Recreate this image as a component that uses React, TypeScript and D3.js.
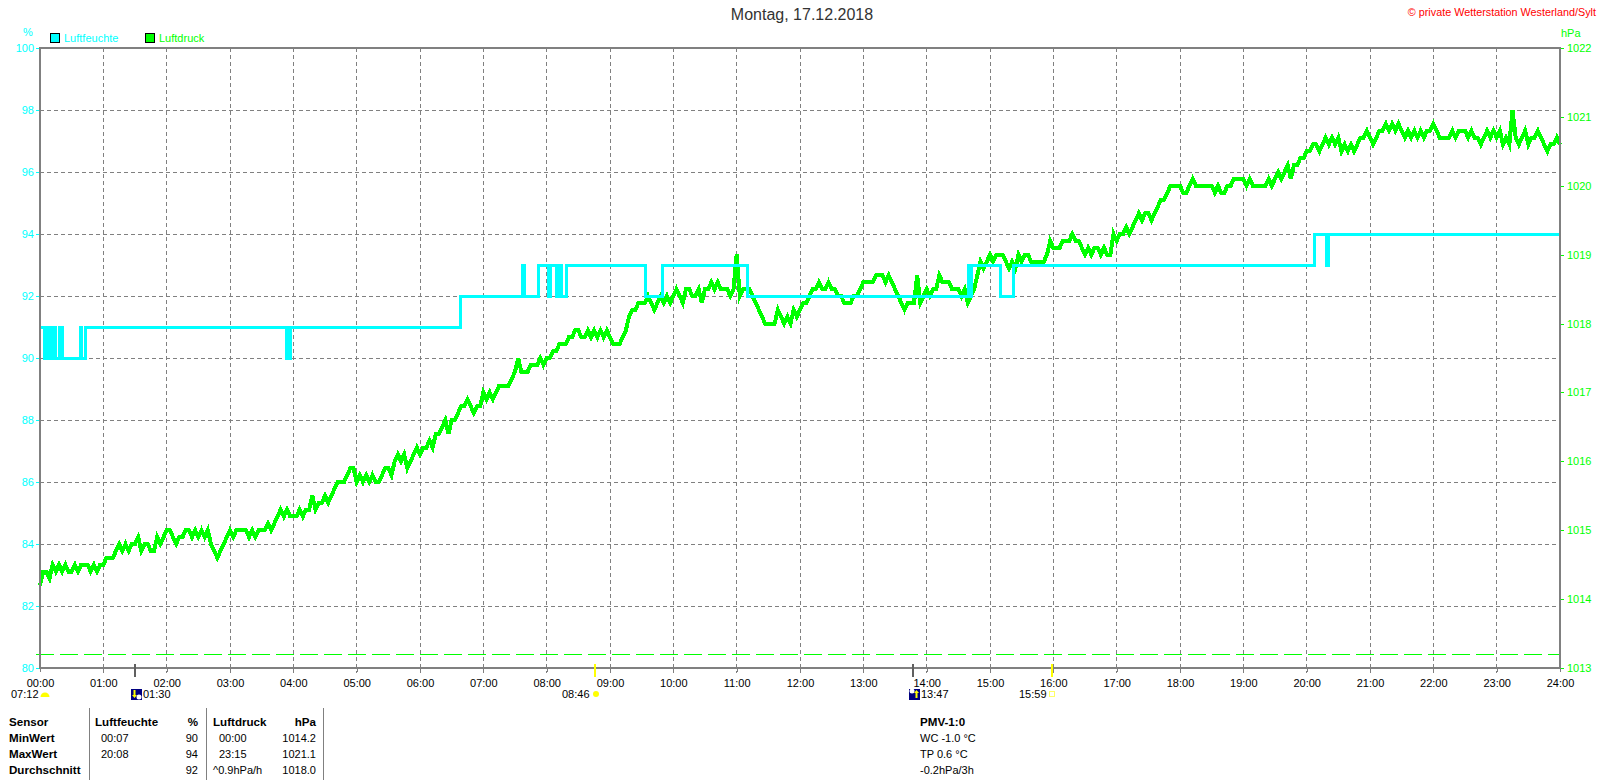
import React, { useEffect, useRef } from "react";
import * as d3 from "d3";

const FONT = '"Liberation Sans", Arial, sans-serif';
const CYAN = "#00ffff";
const GREEN = "#00ff00";
const GRAY = "#808080";

// Luftfeuchte: minute of each change, and the value from there on
const humidityMinutes = [
  0, 4.7, 5.7, 7, 8, 9.5, 10.5, 12, 13, 14.5, 18, 19, 20.5, 21.5, 27.8, 38, 39.5,
  43, 233.7, 235.5, 236.5, 237.5, 398, 457, 459, 472, 481.6, 484, 489.5, 491.5, 494.5, 499, 574, 590,
  670, 879.5, 881, 882.5, 909.5, 922, 1207, 1208, 1219, 1221, 1440,
];
const humidityValues = [
  91, 90, 91, 90, 91, 90, 91, 90, 91, 90, 91, 90, 91, 90, 90, 91, 90,
  91, 90, 91, 90, 91, 92, 93, 92, 93, 92, 93, 92, 93, 92, 93, 92, 93,
  92, 93, 92, 93, 92, 93, 94, 94, 93, 94, 94,
];

// Luftdruck: one reading every 3 minutes, one row per hour
const pressureValues = [
  1014.2, 1014.4, 1014.4, 1014.3, 1014.5, 1014.4, 1014.5, 1014.4, 1014.5, 1014.4, 1014.4, 1014.5, 1014.4, 1014.5, 1014.5, 1014.5, 1014.4, 1014.5, 1014.4, 1014.5,
  1014.5, 1014.6, 1014.6, 1014.6, 1014.7, 1014.8, 1014.7, 1014.8, 1014.7, 1014.8, 1014.8, 1014.9, 1014.7, 1014.8, 1014.8, 1014.7, 1014.7, 1014.9, 1014.8, 1014.9,
  1015.0, 1015.0, 1014.9, 1014.8, 1014.9, 1014.9, 1015.0, 1015.0, 1014.9, 1015.0, 1014.9, 1015.0, 1014.9, 1015.0, 1014.8, 1014.7, 1014.6, 1014.7, 1014.8, 1014.9,
  1015.0, 1014.9, 1015.0, 1015.0, 1015.0, 1015.0, 1014.9, 1015.0, 1014.9, 1015.0, 1015.0, 1015.0, 1015.1, 1015.0, 1015.1, 1015.2, 1015.3, 1015.2, 1015.3, 1015.2,
  1015.2, 1015.2, 1015.3, 1015.2, 1015.3, 1015.3, 1015.5, 1015.3, 1015.4, 1015.4, 1015.5, 1015.4, 1015.5, 1015.6, 1015.7, 1015.7, 1015.7, 1015.8, 1015.9, 1015.9,
  1015.7, 1015.8, 1015.7, 1015.8, 1015.7, 1015.8, 1015.7, 1015.7, 1015.8, 1015.9, 1015.9, 1015.8, 1016.0, 1016.1, 1016.0, 1016.1, 1015.9, 1016.0, 1016.1, 1016.2,
  1016.1, 1016.2, 1016.2, 1016.3, 1016.2, 1016.4, 1016.4, 1016.5, 1016.6, 1016.4, 1016.6, 1016.6, 1016.7, 1016.8, 1016.8, 1016.9, 1016.8, 1016.7, 1016.8, 1016.8,
  1017.0, 1016.9, 1017.0, 1016.9, 1017.0, 1017.1, 1017.1, 1017.1, 1017.1, 1017.2, 1017.3, 1017.5, 1017.3, 1017.3, 1017.3, 1017.4, 1017.4, 1017.4, 1017.5, 1017.4,
  1017.5, 1017.5, 1017.6, 1017.6, 1017.7, 1017.7, 1017.7, 1017.8, 1017.8, 1017.9, 1017.9, 1017.8, 1017.8, 1017.9, 1017.8, 1017.9, 1017.8, 1017.9, 1017.8, 1017.9,
  1017.8, 1017.7, 1017.7, 1017.7, 1017.8, 1017.9, 1018.1, 1018.2, 1018.2, 1018.3, 1018.3, 1018.3, 1018.4, 1018.3, 1018.2, 1018.3, 1018.4, 1018.3, 1018.4, 1018.3,
  1018.4, 1018.5, 1018.4, 1018.3, 1018.5, 1018.5, 1018.4, 1018.4, 1018.5, 1018.3, 1018.5, 1018.5, 1018.6, 1018.5, 1018.6, 1018.5, 1018.5, 1018.5, 1018.4, 1018.5,
  1019.0, 1018.4, 1018.5, 1018.5, 1018.5, 1018.4, 1018.3, 1018.2, 1018.1, 1018.0, 1018.0, 1018.0, 1018.0, 1018.2, 1018.1, 1018.0, 1018.1, 1018.0, 1018.2, 1018.1,
  1018.2, 1018.3, 1018.3, 1018.4, 1018.5, 1018.5, 1018.6, 1018.5, 1018.5, 1018.6, 1018.5, 1018.5, 1018.4, 1018.4, 1018.3, 1018.3, 1018.3, 1018.4, 1018.4, 1018.5,
  1018.6, 1018.6, 1018.6, 1018.6, 1018.7, 1018.7, 1018.7, 1018.6, 1018.7, 1018.6, 1018.5, 1018.4, 1018.3, 1018.2, 1018.3, 1018.3, 1018.3, 1018.7, 1018.3, 1018.4,
  1018.5, 1018.4, 1018.5, 1018.5, 1018.7, 1018.6, 1018.6, 1018.6, 1018.5, 1018.5, 1018.5, 1018.4, 1018.5, 1018.3, 1018.4, 1018.5, 1018.7, 1018.9, 1018.8, 1018.9,
  1019.0, 1018.9, 1019.0, 1019.0, 1019.0, 1018.9, 1018.8, 1018.9, 1018.8, 1019.0, 1018.9, 1019.0, 1019.0, 1018.9, 1018.9, 1018.9, 1018.9, 1018.9, 1019.0, 1019.2,
  1019.1, 1019.1, 1019.1, 1019.2, 1019.2, 1019.2, 1019.3, 1019.2, 1019.2, 1019.1, 1019.0, 1019.1, 1019.0, 1019.1, 1019.1, 1019.0, 1019.1, 1019.0, 1019.0, 1019.3,
  1019.2, 1019.3, 1019.3, 1019.4, 1019.3, 1019.4, 1019.5, 1019.6, 1019.5, 1019.6, 1019.6, 1019.5, 1019.6, 1019.7, 1019.8, 1019.8, 1019.9, 1020.0, 1020.0, 1020.0,
  1020.0, 1019.9, 1019.9, 1020.0, 1020.1, 1020.0, 1020.0, 1020.0, 1020.0, 1020.0, 1020.0, 1019.9, 1020.0, 1019.9, 1019.9, 1020.0, 1020.0, 1020.1, 1020.1, 1020.1,
  1020.1, 1020.0, 1020.1, 1020.0, 1020.0, 1020.0, 1020.0, 1020.0, 1020.1, 1020.0, 1020.1, 1020.2, 1020.1, 1020.2, 1020.3, 1020.1, 1020.3, 1020.3, 1020.4, 1020.4,
  1020.5, 1020.5, 1020.6, 1020.6, 1020.5, 1020.6, 1020.7, 1020.6, 1020.7, 1020.6, 1020.7, 1020.5, 1020.6, 1020.5, 1020.6, 1020.5, 1020.6, 1020.7, 1020.7, 1020.8,
  1020.7, 1020.6, 1020.7, 1020.8, 1020.8, 1020.9, 1020.8, 1020.9, 1020.8, 1020.9, 1020.8, 1020.7, 1020.8, 1020.7, 1020.8, 1020.7, 1020.8, 1020.7, 1020.8, 1020.8,
  1020.9, 1020.8, 1020.7, 1020.7, 1020.7, 1020.7, 1020.8, 1020.7, 1020.8, 1020.8, 1020.8, 1020.7, 1020.8, 1020.7, 1020.7, 1020.6, 1020.7, 1020.8, 1020.7, 1020.8,
  1020.7, 1020.8, 1020.6, 1020.7, 1020.6, 1021.1, 1020.7, 1020.6, 1020.7, 1020.8, 1020.6, 1020.7, 1020.7, 1020.8, 1020.7, 1020.6, 1020.5, 1020.6, 1020.6, 1020.7,
  1020.6,
];
const PRESSURE_STEP = 3;
const pressureFloorLine = 1013.2;

const humidityTicks = [80, 82, 84, 86, 88, 90, 92, 94, 96, 98, 100];
const pressureTicks = [1013, 1014, 1015, 1016, 1017, 1018, 1019, 1020, 1021, 1022];
const hourTicks = d3.range(0, 25);

const sunMoonMarks = [
  { label: "07:12", minute: 432, kind: "sunHalf", markX: 45, tick: null },
  { label: "01:30", minute: 90, kind: "moonDown", markX: 136, tick: "#606060" },
  { label: "08:46", minute: 526, kind: "sunFull", markX: 596, tick: "#ffff00" },
  { label: "13:47", minute: 827, kind: "moonUp", markX: 914, tick: "#606060" },
  { label: "15:59", minute: 959, kind: "sunOpen", markX: 1052, tick: "#ffff00" },
];

const tableSeparators = [89, 206, 323];
const sensorRows = ["MinWert", "MaxWert", "Durchschnitt"];
const humidityTimes = ["00:07", "20:08", ""];
const humidityStats = ["90", "94", "92"];
const pressureTimes = ["00:00", "23:15", "^0.9hPa/h"];
const pressureStats = ["1014.2", "1021.1", "1018.0"];
const pmvLines = ["WC -1.0 °C", "TP 0.6 °C", "-0.2hPa/3h"];

const App: React.FC = () => {
  const ref = useRef<SVGSVGElement>(null);

  useEffect(() => {
    if (!ref.current) return;
    const svg = d3.select(ref.current);
    svg.selectAll("*").remove();

    const left = 40;
    const right = 1560;
    const top = 48;
    const bottom = 668;

    const x = d3.scaleLinear().domain([0, 1440]).range([left, right]);
    const yHum = d3.scaleLinear().domain([80, 100]).range([bottom, top]);
    const yPress = d3.scaleLinear().domain([1013, 1022]).range([bottom, top]);

    const text = (tx: number, ty: number, s: string, fill = "#000", anchor = "start", weight = "normal", size = 11) =>
      svg
        .append("text")
        .attr("x", tx)
        .attr("y", ty)
        .attr("fill", fill)
        .attr("text-anchor", anchor)
        .attr("font-weight", weight)
        .attr("font-size", size)
        .attr("font-family", FONT)
        .text(s);
    const bold = (tx: number, ty: number, s: string, anchor = "start") => text(tx, ty, s, "#000", anchor, "bold", 11.6);

    // grid
    const grid = svg.append("g").attr("shape-rendering", "crispEdges");
    grid
      .selectAll("line.v")
      .data(hourTicks.slice(1, -1))
      .join("line")
      .attr("x1", (d) => x(d * 60))
      .attr("x2", (d) => x(d * 60))
      .attr("y1", top)
      .attr("y2", bottom + 5)
      .attr("stroke", GRAY)
      .attr("stroke-dasharray", "4 3");
    grid
      .selectAll("line.h")
      .data(humidityTicks.slice(1, -1))
      .join("line")
      .attr("x1", left)
      .attr("x2", right)
      .attr("y1", (d) => yHum(d))
      .attr("y2", (d) => yHum(d))
      .attr("stroke", GRAY)
      .attr("stroke-dasharray", "4 3");

    // green dashed line just above the floor
    svg
      .append("line")
      .attr("x1", 36)
      .attr("x2", right)
      .attr("y1", yPress(pressureFloorLine))
      .attr("y2", yPress(pressureFloorLine))
      .attr("stroke", GREEN)
      .attr("stroke-dasharray", "18 6")
      .attr("shape-rendering", "crispEdges");

    // axes
    const axisLeft = svg
      .append("g")
      .attr("transform", `translate(${left},0)`)
      .call(d3.axisLeft(yHum).tickValues(humidityTicks).tickSize(4).tickPadding(2));
    const axisRight = svg
      .append("g")
      .attr("transform", `translate(${right},0)`)
      .call(d3.axisRight(yPress).tickValues(pressureTicks).tickSize(4).tickPadding(3).tickFormat(d3.format("d")));
    const axisBottom = svg
      .append("g")
      .attr("transform", `translate(0,${bottom})`)
      .call(
        d3
          .axisBottom(x)
          .tickValues(hourTicks.map((h) => h * 60))
          .tickSize(4)
          .tickPadding(7)
          .tickFormat((d) => `${String(+d / 60).padStart(2, "0")}:00`)
      );
    [axisLeft, axisRight, axisBottom].forEach((a) => {
      a.attr("font-family", FONT).attr("font-size", 11);
      a.select(".domain").remove();
      a.selectAll("line").attr("shape-rendering", "crispEdges");
    });
    axisLeft.selectAll("text").attr("fill", CYAN);
    axisLeft.selectAll("line").attr("stroke", CYAN);
    axisRight.selectAll("text").attr("fill", GREEN);
    axisRight.selectAll("line").attr("stroke", GREEN);
    axisBottom.selectAll("text").attr("fill", "#000");
    axisBottom.selectAll("line").attr("stroke", GRAY);

    // series
    const pressureLine = d3
      .line<number>()
      .x((_, i) => x(i * PRESSURE_STEP))
      .y((d) => yPress(d));
    svg
      .append("path")
      .datum(pressureValues)
      .attr("fill", "none")
      .attr("stroke", GREEN)
      .attr("stroke-width", 4)
      .attr("shape-rendering", "crispEdges")
      .attr("d", pressureLine);

    const humidityLine = d3
      .line<number>()
      .curve(d3.curveStepAfter)
      .x((_, i) => x(humidityMinutes[i]))
      .y((d) => yHum(d));
    svg
      .append("path")
      .datum(humidityValues)
      .attr("fill", "none")
      .attr("stroke", CYAN)
      .attr("stroke-width", 3)
      .attr("shape-rendering", "crispEdges")
      .attr("d", humidityLine);

    // frame
    svg
      .append("rect")
      .attr("x", left)
      .attr("y", top)
      .attr("width", right - left)
      .attr("height", bottom - top)
      .attr("fill", "none")
      .attr("stroke", GRAY)
      .attr("stroke-width", 2)
      .attr("shape-rendering", "crispEdges");

    // header
    text(802, 20, "Montag, 17.12.2018", "#333", "middle", "normal", 16);
    text(1596, 16, "© private Wetterstation Westerland/Sylt", "#ff0000", "end", "normal", 10.8);
    text(23, 36, "%", CYAN);
    text(1561, 37, "hPa", GREEN);

    // legend
    svg.append("rect").attr("x", 50.5).attr("y", 33.5).attr("width", 9).attr("height", 9).attr("fill", CYAN).attr("stroke", "#000").attr("shape-rendering", "crispEdges");
    text(64, 42, "Luftfeuchte", CYAN);
    svg.append("rect").attr("x", 145.5).attr("y", 33.5).attr("width", 9).attr("height", 9).attr("fill", GREEN).attr("stroke", "#000").attr("shape-rendering", "crispEdges");
    text(159, 42, "Luftdruck", GREEN);

    // sun and moon marks under the axis
    const iconY = 694;
    sunMoonMarks.forEach((m) => {
      if (m.tick) {
        svg
          .append("line")
          .attr("x1", x(m.minute))
          .attr("x2", x(m.minute))
          .attr("y1", bottom - 4)
          .attr("y2", bottom + 9)
          .attr("stroke", m.tick)
          .attr("stroke-width", 2)
          .attr("shape-rendering", "crispEdges");
      }
      if (m.kind === "sunHalf") {
        const arc = d3.arc()({ innerRadius: 0, outerRadius: 4.5, startAngle: -Math.PI / 2, endAngle: Math.PI / 2 });
        svg.append("path").attr("transform", `translate(${m.markX},${iconY + 3})`).attr("d", arc).attr("fill", "#ffff00");
        text(m.markX - 34, iconY + 4, m.label);
      } else if (m.kind === "sunFull") {
        svg.append("circle").attr("cx", m.markX).attr("cy", iconY).attr("r", 3).attr("fill", "#ffff00");
        text(m.markX - 34, iconY + 4, m.label);
      } else if (m.kind === "sunOpen") {
        svg.append("rect").attr("x", m.markX - 2.5).attr("y", iconY - 2.5).attr("width", 5).attr("height", 5).attr("fill", "none").attr("stroke", "#ffff66").attr("shape-rendering", "crispEdges");
        text(m.markX - 33, iconY + 4, m.label);
      } else {
        const up = m.kind === "moonUp";
        const bx = m.markX - 5;
        svg.append("rect").attr("x", bx).attr("y", iconY - 5.5).attr("width", 11).attr("height", 11).attr("fill", "#000080").attr("shape-rendering", "crispEdges");
        svg.append("circle").attr("cx", up ? bx + 3 : bx + 8).attr("cy", up ? iconY - 3 : iconY + 3).attr("r", 2.5).attr("fill", "#fff");
        const ax = up ? bx + 7.5 : bx + 3.5;
        const dir = up ? -1 : 1;
        svg
          .append("path")
          .attr("d", d3.line()([[ax - 2.5, iconY + dir * 1], [ax, iconY + dir * 4], [ax + 2.5, iconY + dir * 1], [ax + 1, iconY + dir * 1], [ax + 1, iconY - dir * 4], [ax - 1, iconY - dir * 4], [ax - 1, iconY + dir * 1]]) + "Z")
          .attr("fill", "#ffff00");
        text(bx + 12, iconY + 4, m.label);
      }
    });

    // table
    svg
      .selectAll("line.sep")
      .data(tableSeparators)
      .join("line")
      .attr("x1", (d) => d)
      .attr("x2", (d) => d)
      .attr("y1", 708)
      .attr("y2", 780)
      .attr("stroke", GRAY)
      .attr("shape-rendering", "crispEdges");

    const rowY = (i: number) => 725.5 + i * 16;
    bold(9, rowY(0), "Sensor");
    bold(95, rowY(0), "Luftfeuchte");
    bold(198, rowY(0), "%", "end");
    bold(213, rowY(0), "Luftdruck");
    bold(316, rowY(0), "hPa", "end");
    sensorRows.forEach((s, i) => {
      bold(9, rowY(i + 1), s);
      text(101, rowY(i + 1), humidityTimes[i]);
      text(198, rowY(i + 1), humidityStats[i], "#000", "end");
      text(i === 2 ? 213 : 219, rowY(i + 1), pressureTimes[i]);
      text(316, rowY(i + 1), pressureStats[i], "#000", "end");
    });
    bold(920, rowY(0), "PMV-1:0");
    pmvLines.forEach((s, i) => text(920, rowY(i + 1), s));
  }, []);

  return (
    <svg
      ref={ref}
      width={1600}
      height={780}
      style={{ position: "absolute", left: 0, top: 0, background: "#fff" }}
    ></svg>
  );
};

export default App;
